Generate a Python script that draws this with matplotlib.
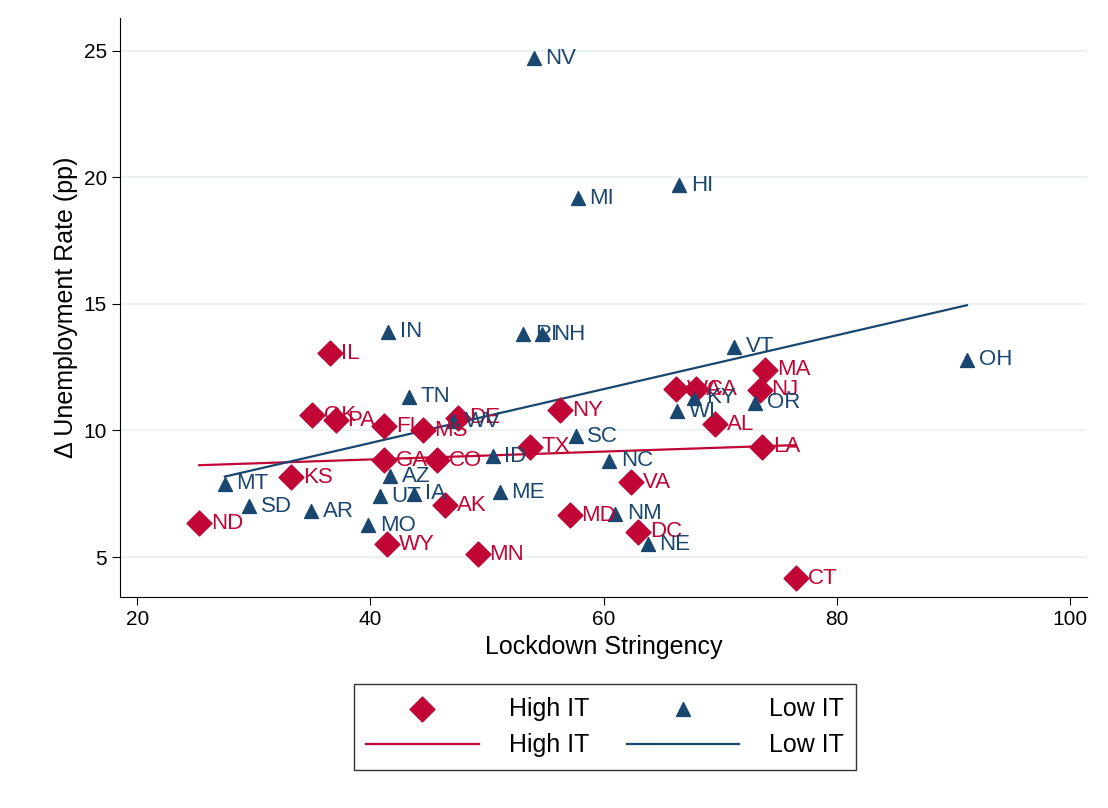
import matplotlib
matplotlib.use("Agg")
import matplotlib.pyplot as plt
import numpy as np

RED = "#c10534"
BLUE = "#1a476f"

high_states = ["ND", "KS", "OK", "PA", "IL", "FL", "GA", "MS", "DE", "CO", "WY", "AK", "MN",
               "TX", "NY", "MD", "VA", "DC", "WA", "CA", "AL", "NJ", "MA", "LA", "CT"]
high_x = [25.3, 33.2, 35.0, 37.0, 36.5, 41.2, 41.2, 44.5, 47.5, 45.7, 41.4, 46.4, 49.2,
          53.7, 56.3, 57.1, 62.4, 63.0, 66.2, 67.9, 69.6, 73.4, 73.9, 73.6, 76.5]
high_y = [6.34, 8.16, 10.6, 10.4, 13.05, 10.16, 8.83, 10.0, 10.5, 8.83, 5.5, 7.05, 5.1,
          9.35, 10.8, 6.66, 7.96, 6.0, 11.63, 11.63, 10.25, 11.6, 12.4, 9.35, 4.17]

low_states = ["NV", "HI", "MI", "IN", "RI", "NH", "VT", "OH", "TN", "WV", "SC", "KY", "WI",
              "OR", "ID", "NC", "AZ", "MT", "UT", "IA", "ME", "SD", "AR", "MO", "NM", "NE"]
low_x = [54.0, 66.5, 57.8, 41.5, 53.1, 54.7, 71.2, 91.2, 43.3, 47.1, 57.6, 67.8, 66.3,
         73.0, 50.5, 60.5, 41.7, 27.5, 40.8, 43.7, 51.1, 29.6, 34.9, 39.8, 61.0, 63.8]
low_y = [24.7, 19.7, 19.17, 13.9, 13.8, 13.8, 13.3, 12.8, 11.34, 10.36, 9.78, 11.3, 10.76,
         11.1, 8.99, 8.8, 8.2, 7.9, 7.4, 7.5, 7.55, 7.0, 6.8, 6.25, 6.7, 5.5]

plt.rcParams["font.family"] = ["Liberation Sans", "DejaVu Sans"]
fig = plt.figure(figsize=(11.08, 8.08), dpi=100)
ax = fig.add_axes([120 / 1108, 1 - 597 / 808, 967 / 1108, 579 / 808])

sc_h = ax.scatter(high_x, high_y, marker="D", s=160, color=RED, zorder=3)
sc_l = ax.scatter(low_x, low_y, marker="^", s=100, color=BLUE, zorder=3)
for s, x, y in zip(high_states, high_x, high_y):
    ax.text(x + 1.0, y, s, color=RED, fontsize=16, va="center", zorder=4)
for s, x, y in zip(low_states, low_x, low_y):
    ax.text(x + 1.0, y, s, color=BLUE, fontsize=16, va="center", zorder=4)

fits = []
for xs, ys, c in [(high_x, high_y, RED), (low_x, low_y, BLUE)]:
    b, a = np.polyfit(xs, ys, 1)
    gx = np.array([min(xs), max(xs)])
    fits.append(ax.plot(gx, a + b * gx, color=c, lw=1.6, zorder=2)[0])

ax.set_xlim(18.5, 101.5)
ax.set_ylim(3.42, 26.3)
ax.set_xticks([20, 40, 60, 80, 100])
ax.set_yticks([5, 10, 15, 20, 25])
ax.tick_params(labelsize=15, length=6)
ax.spines["top"].set_visible(False)
ax.spines["right"].set_visible(False)
ax.grid(axis="y", color="#eaf2f3", lw=1.5)
ax.set_axisbelow(True)
ax.set_xlabel("Lockdown Stringency", fontsize=18)
ax.set_ylabel("Δ Unemployment Rate (pp)", fontsize=18)

fig.legend([sc_h, fits[0], sc_l, fits[1]], ["High IT", "High IT", "Low IT", "Low IT"],
           ncol=2, fontsize=18, loc="center", bbox_to_anchor=(605 / 1108, 1 - 727 / 808),
           fancybox=False, edgecolor="black", columnspacing=1.5, handlelength=4.5,
           handletextpad=1.2, borderpad=0.5)

fig.savefig("out.png", dpi=100)
